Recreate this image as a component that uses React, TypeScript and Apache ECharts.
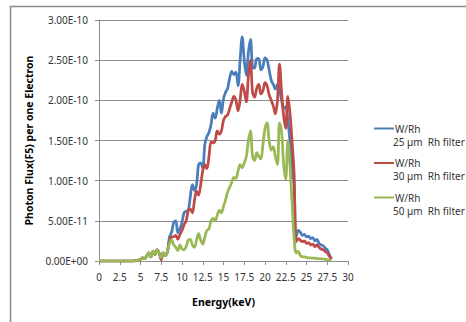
import React, { useEffect, useRef } from "react";
import * as echarts from "echarts";

// Energy grid (keV)
const energies = [
  0, 1, 2, 3, 4, 4.5,
  5, 5.25, 5.5, 5.75, 6, 6.25, 6.5, 6.75, 7, 7.25, 7.5, 7.75, 8, 8.25,
  8.5, 8.75, 9, 9.25, 9.5, 9.75, 10, 10.25, 10.5, 10.75, 11, 11.25, 11.5, 11.75,
  12, 12.25, 12.5, 12.75, 13, 13.25, 13.5, 13.75, 14, 14.25, 14.5, 14.75,
  15, 15.25, 15.5, 15.75, 16, 16.25, 16.5, 16.75, 17, 17.25, 17.5, 17.75,
  18, 18.25, 18.5, 18.75, 19, 19.25, 19.5, 19.75, 20, 20.25, 20.5, 20.75,
  21, 21.25, 21.5, 21.75, 22, 22.25, 22.5, 22.75, 23, 23.25, 23.5, 23.75,
  24, 24.25, 24.5, 24.75, 25, 25.25, 25.5, 25.75, 26, 26.25, 26.5, 26.75,
  27, 27.25, 27.5, 27.75, 28,
];

// Photon flux values in units of 1E-10
const UNIT = 1e-10;

const flux25 = [
  0, 0, 0, 0, 0, 0.005,
  0.02, 0.04, 0.03, 0.06, 0.1, 0.05, 0.12, 0.08, 0.14, 0.1, 0.03, 0.1, 0.07, 0.12,
  0.3, 0.36, 0.48, 0.5, 0.35, 0.4, 0.48, 0.6, 0.62, 0.63, 0.8, 0.95, 0.88, 0.95,
  1.2, 1.22, 1.15, 1.45, 1.55, 1.6, 1.7, 1.84, 1.78, 1.9, 2.0, 1.84,
  2.02, 2.1, 2.15, 2.28, 2.36, 2.32, 2.35, 2.18, 2.5, 2.79, 2.5, 2.31,
  2.6, 2.76, 2.42, 2.4, 2.52, 2.52, 2.38, 2.42, 2.53, 2.5, 2.38, 2.25,
  2.2, 2.14, 2.2, 2.14, 2.0, 1.9, 1.92, 1.75, 1.5, 1.2, 0.95, 0.3,
  0.38, 0.36, 0.32, 0.33, 0.3, 0.31, 0.28, 0.29, 0.25, 0.27, 0.22, 0.2,
  0.19, 0.16, 0.14, 0.08, 0.03,
];

const flux30 = [
  0, 0, 0, 0, 0, 0.005,
  0.02, 0.04, 0.03, 0.06, 0.1, 0.05, 0.12, 0.08, 0.14, 0.1, 0.015, 0.1, 0.07, 0.12,
  0.25, 0.3, 0.3, 0.32, 0.27, 0.33, 0.38, 0.45, 0.5, 0.62, 0.65, 0.6, 0.75, 0.87,
  0.82, 0.95, 1.12, 1.2, 1.15, 1.3, 1.48, 1.47, 1.5, 1.62, 1.58, 1.62,
  1.75, 1.8, 1.82, 1.9, 1.98, 2.05, 2.0, 1.87, 2.0, 2.2, 2.12, 1.98,
  2.3, 2.5, 2.1, 2.04, 2.15, 2.2, 2.08, 2.12, 2.22, 2.18, 2.07, 2.0,
  1.93, 1.83, 2.0, 2.45, 2.1, 1.8, 1.65, 2.05, 1.85, 1.5, 1.1, 0.24,
  0.28, 0.26, 0.24, 0.25, 0.22, 0.23, 0.2, 0.21, 0.18, 0.2, 0.17, 0.15,
  0.14, 0.12, 0.1, 0.06, 0.02,
];

const flux50 = [
  0, 0, 0, 0, 0, 0.005,
  0.02, 0.04, 0.03, 0.06, 0.1, 0.05, 0.12, 0.08, 0.14, 0.1, 0.04, 0.1, 0.07, 0.12,
  0.22, 0.26, 0.2, 0.17, 0.13, 0.2, 0.15, 0.14, 0.18, 0.26, 0.27, 0.2, 0.17, 0.26,
  0.34, 0.26, 0.21, 0.3, 0.38, 0.4, 0.5, 0.53, 0.5, 0.57, 0.63, 0.6,
  0.68, 0.76, 0.86, 0.92, 0.98, 1.04, 1.03, 1.12, 1.2, 1.16, 1.22, 1.3,
  1.5, 1.62, 1.3, 1.25, 1.35, 1.3, 1.27, 1.45, 1.65, 1.72, 1.5, 1.38,
  1.42, 1.3, 1.2, 1.72, 1.6, 1.2, 1.02, 1.5, 1.2, 0.75, 0.3, 0.1,
  0.12, 0.07, 0.05, 0.05, 0.045, 0.04, 0.04, 0.035, 0.035, 0.03, 0.03, 0.025,
  0.025, 0.02, 0.015, 0.01, 0.005,
];

const seriesNames = ["W/Rh", "W/Rh ", "W/Rh  "];
const legendLabels = ["W/Rh", "W/Rh", "W/Rh"];
const filterLabels = ["25 µm  Rh filter", "30 µm  Rh filter", "50 µm  Rh filter"];
const seriesColors = ["#4A7EBB", "#BE4B48", "#98B954"];
const seriesValues = [flux25, flux30, flux50];

const FONT = "'Noto Sans', 'Open Sans', sans-serif";

function sci(v: number): string {
  if (v === 0) return "0.00E+00";
  const s = v.toExponential(2);
  const [m, e] = s.split("e");
  const sign = e[0] === "-" ? "-" : "+";
  const d = e.replace(/[+-]/, "").padStart(2, "0");
  return `${m}E${sign}${d}`;
}

export default function App() {
  const ref = useRef<HTMLDivElement>(null);
  useEffect(() => {
    if (!ref.current) return;
    const chart = echarts.init(ref.current, undefined, { renderer: "svg" });
    const gridColor = "#8C8C8C";
    chart.setOption({
      animation: false,
      backgroundColor: "#ffffff",
      grid: { left: 99, right: 118, top: 20, bottom: 61 },
      xAxis: {
        type: "value",
        min: 0,
        max: 30,
        interval: 2.5,
        name: "Energy(keV)",
        nameLocation: "middle",
        nameGap: 35,
        nameTextStyle: { fontFamily: FONT, fontSize: 10.5, fontWeight: "bold", color: "#000" },
        axisLine: { show: true, lineStyle: { color: gridColor, width: 1 } },
        axisTick: { show: true, inside: false, length: 4, lineStyle: { color: gridColor } },
        axisLabel: { fontFamily: FONT, fontSize: 10, color: "#333", margin: 11 },
        splitLine: { show: false },
      },
      yAxis: {
        type: "value",
        min: 0,
        max: 3 * UNIT,
        interval: 0.5 * UNIT,
        name: "Photon Flux(F5) per one Electron",
        nameLocation: "middle",
        nameGap: 60,
        nameTextStyle: { fontFamily: FONT, fontSize: 10.5, fontWeight: "bold", color: "#000" },
        axisLine: { show: true, lineStyle: { color: gridColor, width: 1 } },
        axisTick: { show: true, inside: false, length: 4, lineStyle: { color: gridColor } },
        axisLabel: {
          fontFamily: FONT,
          fontSize: 10,
          color: "#333",
          margin: 11,
          formatter: (v: number) => sci(v),
        },
        splitLine: { show: true, lineStyle: { color: gridColor, width: 1 } },
      },
      legend: {
        orient: "vertical",
        left: 369,
        top: 117.5,
        itemWidth: 20,
        itemHeight: 12,
        itemGap: 22.5,
        data: seriesNames.map((n, i) => ({
          name: n,
          icon: "path://M0,5L20,5L20,7L0,7Z",
          itemStyle: { color: seriesColors[i] },
        })),
        formatter: (name: string) => legendLabels[seriesNames.indexOf(name)] ?? name,
        textStyle: { fontFamily: FONT, fontSize: 10, color: "#333", lineHeight: 12, padding: [0, 0, 0, -4] },
      },
      series: seriesValues.map((vals, i) => ({
        name: seriesNames[i],
        type: "line",
        symbol: "none",
        smooth: 0.35,
        data: energies.map((e, k) => [e, vals[k] * UNIT]),
        lineStyle: { color: seriesColors[i], width: 2.75 },
        itemStyle: { color: seriesColors[i] },
        z: 2 + i,
      })),
      graphic: [
        {
          type: "rect",
          shape: { x: 10.5, y: 6.5, width: 470, height: 330 },
          style: { fill: "none", stroke: "#8a8a8a", lineWidth: 1.5 },
          silent: true,
        },
        ...filterLabels.map((t, i) => ({
          type: "text",
          left: 393,
          top: 136.5 + i * 34.5,
          style: { text: t, fontFamily: FONT, fontSize: 10, fill: "#333" },
          silent: true,
        })),
      ],
    });
    return () => chart.dispose();
  }, []);
  return (
    <div
      ref={ref}
      style={{ position: "fixed", left: 0, top: 0, width: 466, height: 322, background: "#fff" }}
    />
  );
}
